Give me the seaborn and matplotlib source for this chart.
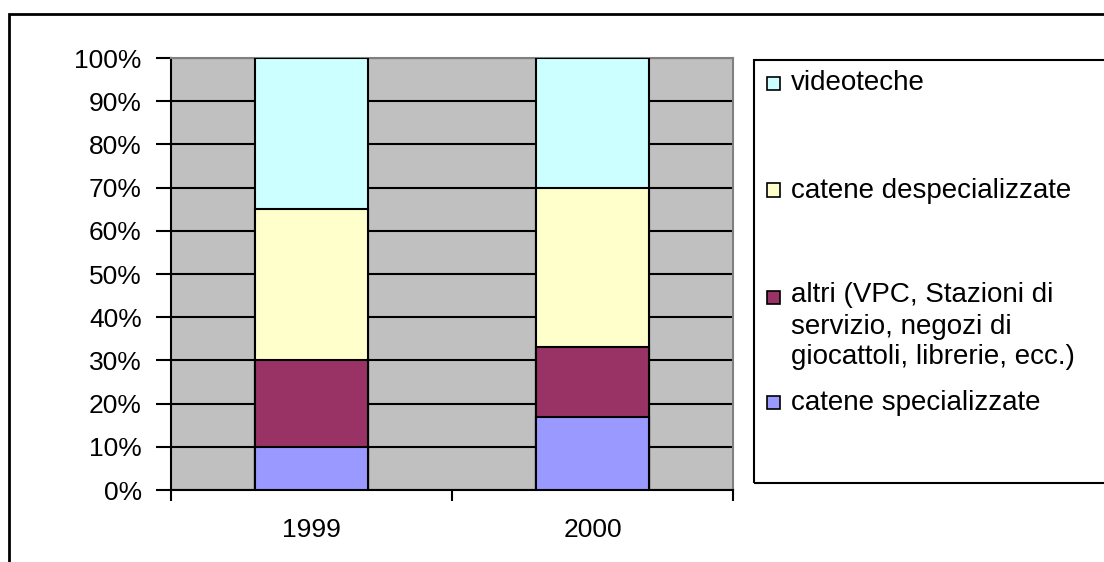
import matplotlib
matplotlib.use("Agg")
import matplotlib.pyplot as plt
from matplotlib.patches import Rectangle
from matplotlib.ticker import FixedLocator, PercentFormatter
import numpy as np
import pandas as pd
import seaborn as sns

# Market share of home-video sales channels (share of total, %)
years = ["1999", "2000"]
catene_specializzate = [10, 17]
altri = [20, 16]
catene_despecializzate = [35, 37]
videoteche = [35, 30]

series_names = [
    "catene specializzate",
    "altri (VPC, Stazioni di\nservizio, negozi di\ngiocattoli, librerie, ecc.)",
    "catene despecializzate",
    "videoteche",
]
series_values = [catene_specializzate, altri, catene_despecializzate, videoteche]
series_colors = ["#9999FF", "#993366", "#FFFFCC", "#CCFFFF"]

sns.set_style("ticks")
plt.rcParams["font.family"] = ["Liberation Sans", "DejaVu Sans"]
plt.rcParams["text.color"] = "black"

W, H, DPI = 1104, 562, 100
TICK_FS = 19
LEGEND_FS = 20
LINE_PX = 30
fig = plt.figure(figsize=(W / DPI, H / DPI), dpi=DPI)
fig.patch.set_facecolor("white")


def fx(px):
    return px / W


def fy(py):
    return 1 - py / H


ax = fig.add_axes([fx(171), fy(490), fx(733) - fx(171), fy(58) - fy(490)])
ax.set_facecolor("#C0C0C0")

# Stacked shares: draw cumulative totals from the top layer down
df = pd.DataFrame({"year": years})
cum = np.zeros(len(years))
cums = []
for vals in series_values:
    cum = cum + np.array(vals, dtype=float)
    cums.append(cum.copy())
for name, c, color in reversed(list(zip(series_names, cums, series_colors))):
    df["top"] = c / 100.0
    sns.barplot(data=df, x="year", y="top", color=color, width=0.4,
                edgecolor="black", linewidth=1.5, saturation=1, ax=ax, zorder=3)

ax.set_xlim(-0.5, 1.5)
ax.set_ylim(0, 1)
ax.set_xlabel("")
ax.set_ylabel("")

# Y axis: percentage ticks with black horizontal gridlines
ax.set_yticks(np.arange(0, 1.01, 0.1))
ax.yaxis.set_major_formatter(PercentFormatter(1.0, decimals=0))
ax.yaxis.grid(True, color="black", linewidth=1.5, zorder=1)
ax.set_axisbelow(True)
ax.tick_params(axis="y", direction="out", length=11, width=1.5, pad=10,
               labelsize=TICK_FS, colors="black")

# X axis: labels at category centres, tick marks at category boundaries
ax.xaxis.set_minor_locator(FixedLocator([-0.5, 0.5, 1.5]))
ax.tick_params(axis="x", which="major", length=0, pad=20, labelsize=TICK_FS,
               colors="black")
ax.tick_params(axis="x", which="minor", direction="out", length=8, width=1.5,
               colors="black")

for side in ["left", "bottom"]:
    ax.spines[side].set_color("black")
    ax.spines[side].set_linewidth(1.5)
for side in ["top", "right"]:
    ax.spines[side].set_visible(True)
    ax.spines[side].set_color("#808080")
    ax.spines[side].set_linewidth(1.5)

# Outer chart frame
fig.patches.append(Rectangle((fx(9), fy(600)), fx(1200), fy(14) - fy(600),
                             transform=fig.transFigure, fill=False,
                             edgecolor="black", linewidth=2))

# Legend panel
fig.patches.append(Rectangle((fx(754), fy(483)), fx(1200) - fx(754), fy(60) - fy(483),
                             transform=fig.transFigure, fill=False,
                             edgecolor="black", linewidth=1.5))

legend_rows = [("videoteche", 83, 3), ("catene despecializzate", 190, 2),
               (series_names[1], 297, 1), ("catene specializzate", 402, 0)]
for label, ypx, idx in legend_rows:
    fig.patches.append(Rectangle((fx(767), fy(ypx + 6.5)), fx(13), fy(ypx - 6.5) - fy(ypx + 6.5),
                                 transform=fig.transFigure, facecolor=series_colors[idx],
                                 edgecolor="black", linewidth=1.2))
    n_extra = label.count("\n")
    # baseline of the last line of the entry
    base_px = ypx + 7.5 + n_extra * LINE_PX
    fig.text(fx(791), fy(base_px), label, fontsize=LEGEND_FS, ha="left", va="baseline",
             linespacing=1.25, color="black")

fig.savefig("out.png", dpi=DPI, facecolor="white")
